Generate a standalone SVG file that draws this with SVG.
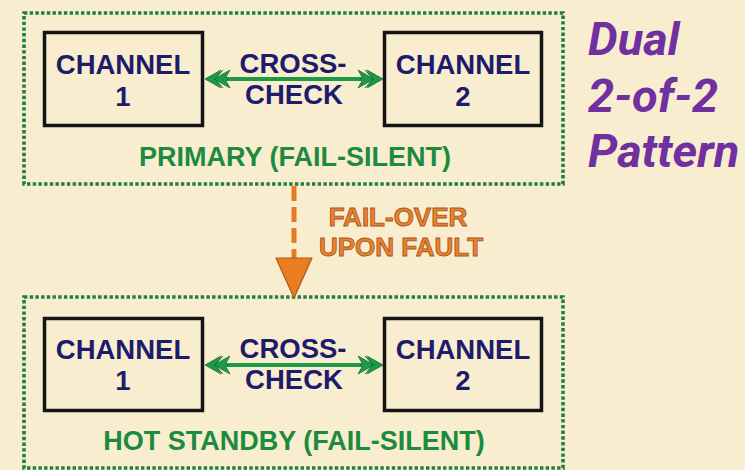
<svg xmlns="http://www.w3.org/2000/svg" width="745" height="470" viewBox="0 0 745 470">
  <defs>
    <style>
      .group-frame { fill: none; stroke: #1f7f3e; stroke-width: 3.6; stroke-dasharray: 3.4 2.3; }
      .channel { fill: none; stroke: #141414; stroke-width: 3.5; }
      .ch-text { font-family: "Liberation Sans", Arial, sans-serif; font-weight: bold; font-size: 27.5px; fill: #1e1b6c; text-anchor: middle; }
      .group-label { font-family: "Liberation Sans", Arial, sans-serif; font-weight: bold; font-size: 27px; fill: #1d8a40; text-anchor: middle; }
      .xcheck { stroke: #1e9a46; stroke-width: 4; fill: none; }
      .failover-text { font-family: "Liberation Sans", Arial, sans-serif; font-weight: bold; font-size: 26px; fill: #ea8330; stroke: #a9561a; stroke-width: 0.9; text-anchor: middle; }
      .title { font-family: Roboto, "Liberation Sans", sans-serif; font-weight: bold; font-style: italic; font-size: 47px; fill: #7030a0; }
    </style>
    <!-- feathered double arrowhead for cross-check links -->
    <marker id="xhead" markerUnits="userSpaceOnUse" markerWidth="40" markerHeight="30" refX="0" refY="0" viewBox="-30 -15 40 30" orient="auto-start-reverse" overflow="visible">
      <path d="M6,0 L-10,-9 L-6,-3 L-12,-9 L-4,0 L-12,9 L-6,3 L-10,9 Z M-3,0 L-19,-9 L-15,-2 L-17,0 L-15,2 L-19,9 Z" fill="#1e9a46" stroke="#137232" stroke-width="0.8" stroke-linejoin="round"/>
    </marker>
  </defs>

  <rect width="745" height="470" fill="#f8eecf"/>

  <!-- primary pair -->
  <g id="primary">
    <rect class="group-frame" x="24" y="13" width="539" height="171"/>
    <text class="group-label" x="295" y="166">PRIMARY (FAIL-SILENT)</text>
  </g>
  <g id="primary-ch1">
    <rect class="channel" x="44.5" y="32.5" width="158" height="93"/>
    <text class="ch-text" x="123" y="74">CHANNEL</text>
    <text class="ch-text" x="123" y="106">1</text>
  </g>
  <g id="primary-ch2">
    <rect class="channel" x="384.5" y="32.5" width="157" height="93"/>
    <text class="ch-text" x="463" y="74">CHANNEL</text>
    <text class="ch-text" x="463" y="106">2</text>
  </g>

  <!-- hot standby pair -->
  <g id="standby">
    <rect class="group-frame" x="24" y="297" width="539" height="171"/>
    <text class="group-label" x="294" y="450">HOT STANDBY (FAIL-SILENT)</text>
  </g>
  <g id="standby-ch1">
    <rect class="channel" x="44.5" y="318.5" width="158" height="92"/>
    <text class="ch-text" x="123" y="359">CHANNEL</text>
    <text class="ch-text" x="123" y="390">1</text>
  </g>
  <g id="standby-ch2">
    <rect class="channel" x="384.5" y="318.5" width="157" height="92"/>
    <text class="ch-text" x="463" y="359">CHANNEL</text>
    <text class="ch-text" x="463" y="390">2</text>
  </g>

  <!-- connectors -->
  <g id="connectors">
    <line class="xcheck" x1="211" y1="79" x2="377" y2="79" marker-start="url(#xhead)" marker-end="url(#xhead)"/>
    <text class="ch-text" x="293" y="73">CROSS-</text>
    <text class="ch-text" x="294" y="104">CHECK</text>

    <line class="xcheck" x1="211" y1="365" x2="377" y2="365" marker-start="url(#xhead)" marker-end="url(#xhead)"/>
    <text class="ch-text" x="293" y="358">CROSS-</text>
    <text class="ch-text" x="294" y="389">CHECK</text>

    <!-- fail-over from primary to standby -->
    <line x1="294" y1="186" x2="294" y2="259" stroke="#e87b22" stroke-width="5" stroke-dasharray="15 6"/>
    <path d="M276,258 L312,258 L294,298 Z" fill="#ea7d20" stroke="#b0581a" stroke-width="1.2" stroke-linejoin="round"/>
    <text class="failover-text" x="398" y="226">FAIL-OVER</text>
    <text class="failover-text" x="401" y="256">UPON FAULT</text>
  </g>

  <!-- pattern title -->
  <g id="title">
    <text class="title" x="588" y="55">Dual</text>
    <text class="title" x="588" y="112">2-of-2</text>
    <text class="title" x="588" y="167">Pattern</text>
  </g>
</svg>
